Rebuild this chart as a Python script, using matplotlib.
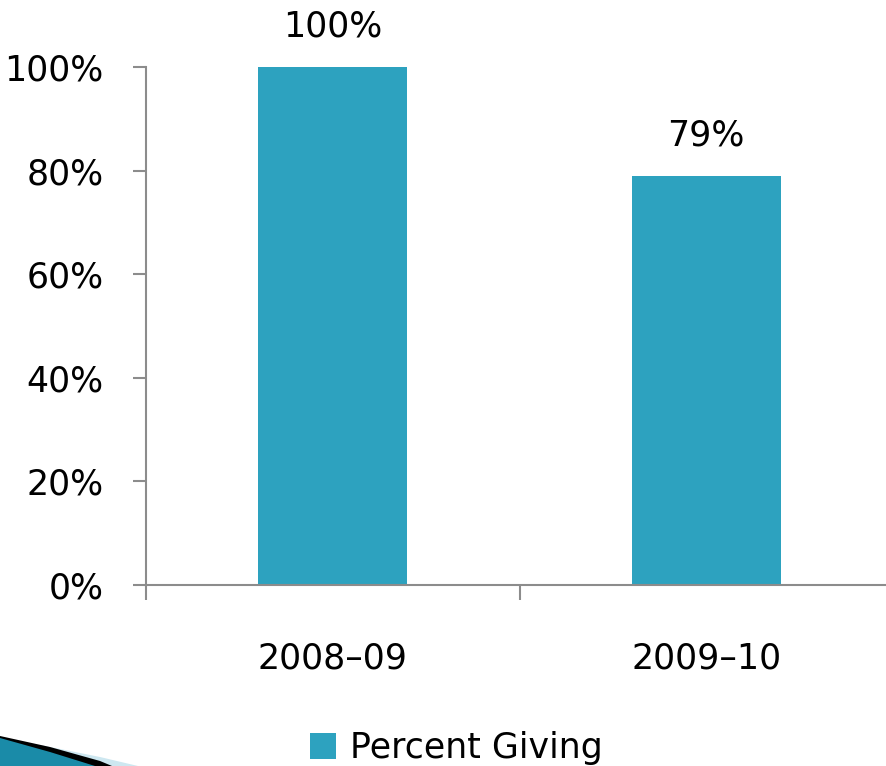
import matplotlib
matplotlib.use("Agg")
import matplotlib.pyplot as plt
from matplotlib.patches import Polygon

categories = ["2008–09", "2009–10"]
percent_giving = [100, 79]
yticks = [0, 20, 40, 60, 80, 100]
series_name = "Percent Giving"

BAR = "#2DA2BF"
GRAY = "#8C8C8C"
FS = 25

plt.rcParams['font.family'] = ['DejaVu Sans']

fig = plt.figure(figsize=(8.86, 7.66), dpi=100)
ax = fig.add_axes([146/886, (766-585)/766, (893-146)/886, (585-67)/766])

x = list(range(len(categories)))
bars = ax.bar(x, percent_giving, width=0.4, color=BAR, label=series_name, zorder=2)
for xi, v in zip(x, percent_giving):
    ax.annotate(f"{v}%", (xi, v), xytext=(0, 17), textcoords="offset points",
                ha="center", va="bottom", fontsize=FS, color="black")

ax.set_xlim(-0.5, 1.5)
ax.set_ylim(0, 100)
ax.set_yticks(yticks)
ax.set_yticklabels([f"{t}%" for t in yticks])
ax.set_xticks([-0.5, 0.5, 1.5], minor=False)
ax.set_xticklabels(["", "", ""])
ax.set_xticks(x, minor=True)
ax.set_xticklabels(categories, minor=True)

for s in ["top", "right"]:
    ax.spines[s].set_visible(False)
for s in ["left", "bottom"]:
    ax.spines[s].set_color(GRAY)
    ax.spines[s].set_linewidth(1.5)

ax.tick_params(axis="y", which="major", length=9.5, width=1.5, color=GRAY,
               labelsize=FS, pad=21)
ax.tick_params(axis="x", which="major", length=11, width=1.5, color=GRAY,
               direction="out")
ax.tick_params(axis="x", which="minor", length=0, labelsize=FS, pad=41)

fig.legend(handles=[bars], labels=[series_name], loc="center left",
           bbox_to_anchor=(310/886, (766-748)/766), frameon=False,
           fontsize=FS, handlelength=0.75, handleheight=0.75,
           handletextpad=0.4, borderpad=0, borderaxespad=0)

# decorative corner wedge (template ornament)
def P(pts, **kw):
    fig.patches.append(Polygon([(px/886, (766-py)/766) for px, py in pts],
                               closed=True, transform=fig.transFigure, **kw))
P([(40, 745), (100, 757), (138, 766), (0, 766)], facecolor="#CDE7F0", edgecolor="none")
P([(0, 736), (50, 747), (100, 761), (112, 766), (0, 766)], facecolor="#000000", edgecolor="none")
P([(0, 738), (50, 752), (95, 766), (0, 766)], facecolor="#1A8BA8", edgecolor="none")

fig.savefig("out.png", dpi=100)
